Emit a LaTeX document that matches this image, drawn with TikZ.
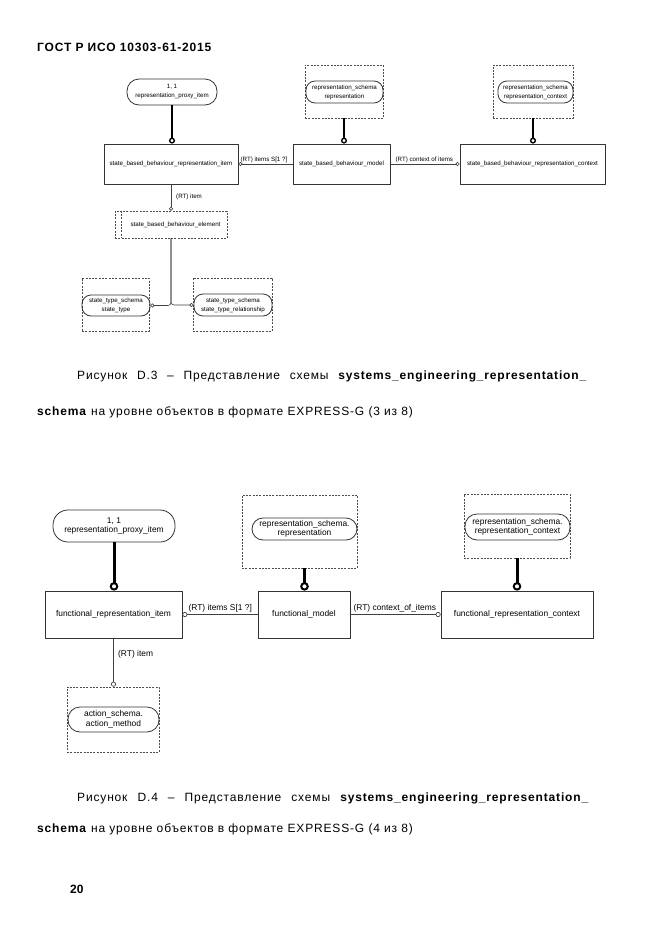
\documentclass[tikz,border=0pt]{standalone}
\usepackage{fontspec}
\setmainfont{Liberation Sans}
\usetikzlibrary{arrows.meta, positioning}

\begin{document}
\begin{tikzpicture}[x=1pt, y=-1pt, line join=round,
    ent/.style={rectangle, draw=black!80, line width=0.8pt, inner sep=0pt},
    sch/.style={rectangle, draw=black!70, line width=0.7pt, dash pattern=on 2pt off 1.3pt, inner sep=0pt},
    ref/.style={rectangle, draw=black!80, line width=0.8pt, rounded corners=#1, align=center, inner sep=0pt},
    ref/.default=9,
    smallf/.style={font=\fontsize{6.2}{9}\selectfont},
    bigf/.style={font=\fontsize{8.4}{9.5}\selectfont},
    sup3/.style={line width=2pt, -{Circle[open, length=6pt, width=6pt, line width=1.4pt]}},
    sup4/.style={line width=3pt, -{Circle[open, length=8.5pt, width=8.5pt, line width=2pt]}},
    rel3/.style={draw=black!75, line width=0.6pt, -{Circle[open, length=4pt, width=4pt, line width=0.6pt]}},
    rel4/.style={draw=black!75, line width=0.7pt, -{Circle[open, length=5pt, width=5pt, line width=0.7pt]}},
    lbl/.style={inner sep=0pt},
    captxt/.style={inner sep=0pt, anchor=base west, font=\fontsize{12}{14}\selectfont\addfontfeature{LetterSpace=7}}]
    \useasboundingbox (0,0) rectangle (661,935);

    \node[captxt, font=\fontsize{12}{14}\selectfont\bfseries\addfontfeature{LetterSpace=7}] (hdr) at (37,51) {ГОСТ Р ИСО 10303-61-2015};

    % Figure D.3
    \node[ref=12, smallf, minimum width=90, minimum height=26] (prox3) at (172,92) {1, 1\\representation\_proxy\_item};
    \node[ent, smallf, minimum width=134, minimum height=40] (sbri) at (171,164) {state\_based\_behaviour\_representation\_item};
    \node[ent, smallf, minimum width=97, minimum height=40] (sbm) at (341.5,164) {state\_based\_behaviour\_model};
    \node[ent, smallf, minimum width=145, minimum height=40] (sbrc) at (532.5,164) {state\_based\_behaviour\_representation\_context};
    \node[sch, minimum width=78, minimum height=53] (rep3box) at (344,91.5) {};
    \node[ref, smallf, minimum width=77, minimum height=22] (rep3) at (344.5,92) {representation\_schema\\representation};
    \node[sch, minimum width=80, minimum height=53] (ctx3box) at (533,91.5) {};
    \node[ref, smallf, minimum width=75, minimum height=22] (ctx3) at (535.5,92) {representation\_schema\\representation\_context};
    \node[sch, smallf, minimum width=112, minimum height=27] (elem) at (171,224.5) {\hspace*{9pt}state\_based\_behaviour\_element};
    \draw[draw=black!70, line width=0.7pt, dash pattern=on 2pt off 1.3pt] ([xshift=7pt]elem.north west) -- ([xshift=7pt]elem.south west);
    \node[sch, minimum width=67, minimum height=53] (stlbox) at (115.5,304.5) {};
    \node[ref, smallf, minimum width=68, minimum height=21] (stl) at (116,305.5) {state\_type\_schema\\state\_type};
    \node[sch, minimum width=79, minimum height=53] (strbox) at (232.5,304.5) {};
    \node[ref, smallf, minimum width=78, minimum height=22] (str) at (233,305) {state\_type\_schema\\state\_type\_relationship};

    \draw[sup3] (prox3.south) -- (prox3.south |- sbri.north);
    \draw[sup3] (rep3box.south) -- (rep3box.south |- sbm.north);
    \draw[sup3] (ctx3box.south) -- (ctx3box.south |- sbrc.north);
    \draw[rel3] (sbm.west) -- (sbri.east);
    \draw[rel3] (sbm.east) -- (sbrc.west);
    \draw[rel3] (sbri.south) -- (sbri.south |- elem.north);
    \draw[rel3, rounded corners=3pt] (elem.south) |- (stl.east);
    \draw[rel3, rounded corners=3pt] (elem.south) |- (str.west);

    \node[lbl, smallf, above right=1.5pt and 2pt of sbri.east] (items3) {(RT) items S[1 ?]};
    \node[lbl, smallf, above right=1.5pt and 5pt of sbm.east] (cont3) {(RT) context of items};
    \node[lbl, smallf, below right=9pt and 5pt of sbri.south] (item3) {(RT) item};

    \node[captxt] (cap3a) at (77,379) {\hbox to 510pt{Рисунок\hfill D.3\hfill –\hfill Представление\hfill схемы\hfill \textbf{systems\_engineering\_representation\_}}};
    \node[captxt] (cap3b) at (37,415) {\textbf{schema} на уровне объектов в формате EXPRESS-G (3 из 8)};

    % Figure D.4
    \node[ref=15, bigf, minimum width=122, minimum height=32] (prox4) at (114,526) {1, 1\\representation\_proxy\_item};
    \node[ent, bigf, minimum width=137, minimum height=47] (fri) at (113.5,614.5) {functional\_representation\_item};
    \node[ent, bigf, minimum width=92, minimum height=47] (fm) at (304,614.5) {functional\_model};
    \node[ent, bigf, minimum width=152, minimum height=47] (frc) at (517,614.5) {functional\_representation\_context};
    \node[sch, minimum width=115, minimum height=73] (rep4box) at (299.5,531.5) {};
    \node[ref=11, bigf, minimum width=105, minimum height=22] (rep4) at (304.5,529) {representation\_schema.\\representation};
    \node[sch, minimum width=106, minimum height=64] (ctx4box) at (517,526) {};
    \node[ref=12, bigf, minimum width=105, minimum height=26] (ctx4) at (517.5,527) {representation\_schema.\\representation\_context};
    \node[sch, minimum width=92, minimum height=65] (actbox) at (113,719.5) {};
    \node[ref=12, bigf, minimum width=91, minimum height=25] (act) at (113.5,719.5) {action\_schema.\\action\_method};

    \draw[sup4] (prox4.south) -- (prox4.south |- fri.north);
    \draw[sup4] (rep4.south |- rep4box.south) -- (rep4.south |- fm.north);
    \draw[sup4] (ctx4box.south) -- (ctx4box.south |- frc.north);
    \draw[rel4] (fm.west) -- (fri.east);
    \draw[rel4] (fm.east) -- (frc.west);
    \draw[rel4] (fri.south) -- (fri.south |- actbox.north);

    \node[lbl, bigf, above right=2.5pt and 6pt of fri.east] (items4) {(RT) items S[1 ?]};
    \node[lbl, bigf, above right=2.5pt and 3pt of fm.east] (cont4) {(RT) context\_of\_items};
    \node[lbl, bigf, below right=12pt and 4.5pt of fri.south] (item4) {(RT) item};

    \node[captxt] (cap4a) at (77,801) {\hbox to 512pt{Рисунок\hfill D.4\hfill –\hfill Представление\hfill схемы\hfill \textbf{systems\_engineering\_representation\_}}};
    \node[captxt] (cap4b) at (37,832) {\textbf{schema} на уровне объектов в формате EXPRESS-G (4 из 8)};

    \node[captxt, font=\fontsize{12}{14}\selectfont\bfseries] (pgno) at (70,893) {20};
\end{tikzpicture}
\end{document}
